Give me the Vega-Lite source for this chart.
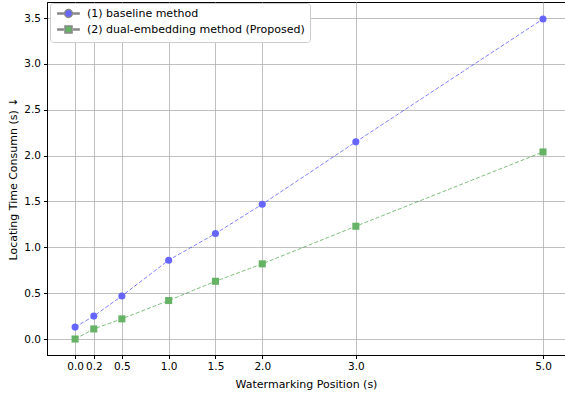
{
  "$schema": "https://vega.github.io/schema/vega-lite/v6.json",
  "width": 518,
  "height": 353,
  "autosize": "none",
  "padding": {"left": 47, "top": 2, "right": 0, "bottom": 39},
  "background": "white",
  "config": {
    "font": "DejaVu Sans",
    "view": {"stroke": "black", "strokeWidth": 1},
    "axis": {
      "labelFontSize": 10.5,
      "titleFontSize": 11,
      "labelColor": "black",
      "titleColor": "black",
      "titleFontWeight": "normal",
      "tickColor": "black",
      "domainColor": "black",
      "tickSize": 3.5,
      "labelPadding": 3,
      "gridColor": "#b0b0b0",
      "gridWidth": 0.8,
      "gridOpacity": 1
    }
  },
  "data": {
    "values": [
      {"method": "(1) baseline method", "x": 0.0, "y": 0.13},
      {"method": "(1) baseline method", "x": 0.2, "y": 0.25},
      {"method": "(1) baseline method", "x": 0.5, "y": 0.47},
      {"method": "(1) baseline method", "x": 1.0, "y": 0.86},
      {"method": "(1) baseline method", "x": 1.5, "y": 1.15},
      {"method": "(1) baseline method", "x": 2.0, "y": 1.47},
      {"method": "(1) baseline method", "x": 3.0, "y": 2.15},
      {"method": "(1) baseline method", "x": 5.0, "y": 3.49},
      {"method": "(2) dual-embedding method (Proposed)", "x": 0.0, "y": 0.0},
      {"method": "(2) dual-embedding method (Proposed)", "x": 0.2, "y": 0.11},
      {"method": "(2) dual-embedding method (Proposed)", "x": 0.5, "y": 0.22},
      {"method": "(2) dual-embedding method (Proposed)", "x": 1.0, "y": 0.42},
      {"method": "(2) dual-embedding method (Proposed)", "x": 1.5, "y": 0.63},
      {"method": "(2) dual-embedding method (Proposed)", "x": 2.0, "y": 0.82},
      {"method": "(2) dual-embedding method (Proposed)", "x": 3.0, "y": 1.23},
      {"method": "(2) dual-embedding method (Proposed)", "x": 5.0, "y": 2.04}
    ]
  },
  "encoding": {
    "x": {
      "field": "x",
      "type": "quantitative",
      "scale": {"domain": [-0.3, 5.235], "nice": false, "zero": false},
      "axis": {
        "values": [0, 0.2, 0.5, 1, 1.5, 2, 3, 5],
        "format": ".1f",
        "title": "Watermarking Position (s)",
        "titlePadding": 6,
        "labelFlush": false
      }
    },
    "y": {
      "field": "y",
      "type": "quantitative",
      "scale": {"domain": [-0.174, 3.675], "nice": false, "zero": false},
      "axis": {
        "values": [0, 0.5, 1, 1.5, 2, 2.5, 3, 3.5],
        "format": ".1f",
        "title": "Locating Time Consumn (s) ↓",
        "titlePadding": 5,
        "labelFlush": false
      }
    }
  },
  "resolve": {"scale": {"shape": "independent"}},
  "layer": [
    {
      "mark": {"type": "line", "strokeDash": [4, 2], "strokeWidth": 1, "opacity": 0.5},
      "encoding": {
        "stroke": {
          "field": "method",
          "type": "nominal",
          "scale": {"range": ["#0000ff", "#008000"]},
          "legend": null
        }
      }
    },
    {
      "mark": {"type": "point", "filled": true, "size": 50, "opacity": 1},
      "encoding": {
        "fill": {
          "field": "method",
          "type": "nominal",
          "scale": {"range": ["#6666ff", "#66b366"]},
          "legend": null
        },
        "shape": {
          "field": "method",
          "type": "nominal",
          "scale": {"range": ["circle", "square"]},
          "legend": null
        }
      }
    },
    {
      "transform": [{"filter": "false"}],
      "mark": {"type": "point", "filled": true, "size": 50, "opacity": 1},
      "encoding": {
        "fill": {"field": "method", "type": "nominal", "legend": null},
        "shape": {
          "field": "method",
          "type": "nominal",
          "scale": {
            "domain": ["(1) baseline method", "(2) dual-embedding method (Proposed)"],
            "range": [
              "M-3,-0.15L-1.5,-0.15L-1.5,0.15L-3,0.15ZM-1.1,0A1.1,1.1 0 1,0 1.1,0A1.1,1.1 0 1,0 -1.1,0ZM1.5,-0.15L3,-0.15L3,0.15L1.5,0.15Z",
              "M-3,-0.15L-1.5,-0.15L-1.5,0.15L-3,0.15ZM-1,-1L1,-1L1,1L-1,1ZM1.5,-0.15L3,-0.15L3,0.15L1.5,0.15Z"
            ]
          },
          "legend": {
            "title": null,
            "orient": "none",
            "legendX": 3,
            "legendY": 1,
            "padding": 5,
            "fillColor": "white",
            "strokeColor": "#cccccc",
            "cornerRadius": 3,
            "labelFontSize": 11,
            "labelColor": "black",
            "labelLimit": 400,
            "labelOffset": 13,
            "symbolSize": 50,
            "symbolOffset": 8,
            "symbolFillColor": {"expr": "datum.value === '(1) baseline method' ? '#6666ff' : '#66b366'"},
            "rowPadding": 1
          }
        }
      }
    }
  ]
}
